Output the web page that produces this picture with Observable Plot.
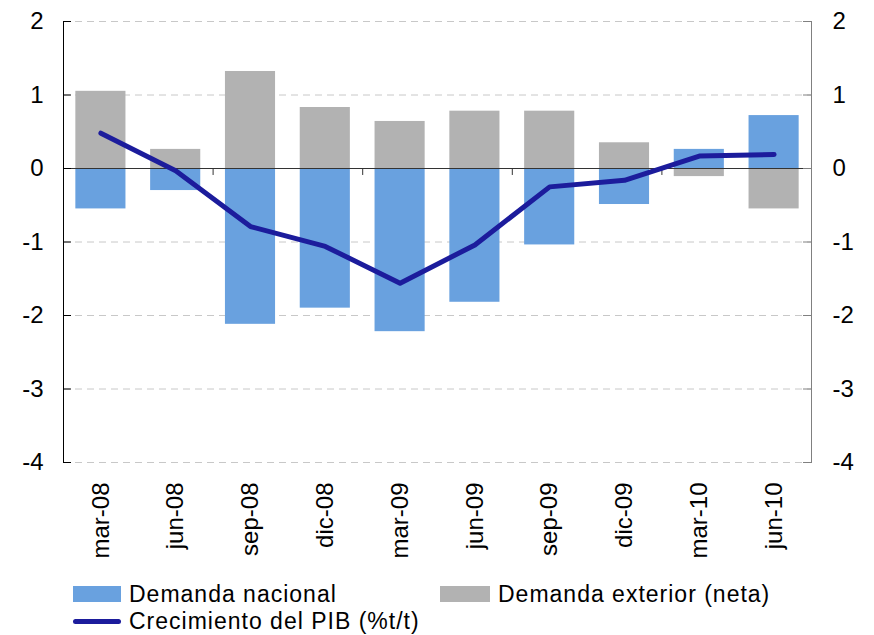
<!DOCTYPE html>
<html>
<head>
<meta charset="utf-8">
<script src="https://cdn.jsdelivr.net/npm/d3@7"></script>
<script src="https://cdn.jsdelivr.net/npm/@observablehq/plot@0.6"></script>
<style>
  html, body { margin: 0; padding: 0; background: #fff; }
  body { width: 874px; height: 635px; font-family: "Liberation Sans", Arial, sans-serif; }
  #legend { position: relative; height: 57px; font-size: 23px; letter-spacing: 1px; line-height: 26px; color: #000; }
  .item { position: absolute; display: flex; align-items: center; white-space: nowrap; height: 26px; }
  .sw { display: inline-block; margin-right: 8px; }
</style>
</head>
<body>
<div id="chart"></div>
<div id="legend"></div>
<script>
const categories = ["mar-08","jun-08","sep-08","dic-08","mar-09","jun-09","sep-09","dic-09","mar-10","jun-10"];
const nacional = [-0.55,-0.30,-2.12,-1.90,-2.22,-1.82,-1.04,-0.49,0.26,0.72];
const exterior = [1.05,0.26,1.32,0.83,0.64,0.78,0.78,0.35,-0.11,-0.55];
const pib = [0.48,-0.03,-0.79,-1.06,-1.56,-1.04,-0.25,-0.16,0.17,0.19];
const yTicks = [2,1,0,-1,-2,-3,-4];
const seriesNames = ["Demanda nacional","Demanda exterior (neta)","Crecimiento del PIB (%t/t)"];
const colors = ["#69A1DF","#B2B2B2","#1C1C9C"];

const W = 874, H = 578, ML = 63, MR = 63, MT = 21, MB = 116;
const step = (W - ML - MR) / categories.length;

const bars = [];
categories.forEach((c, i) => {
  bars.push({cat: c, serie: seriesNames[0], v: nacional[i]});
  bars.push({cat: c, serie: seriesNames[1], v: exterior[i]});
});
const line = categories.map((c, i) => ({cat: c, v: pib[i]}));
const boundaryCats = [categories[1], categories[3], categories[5], categories[7]];

const chart = Plot.plot({
  width: W, height: H,
  marginLeft: ML, marginRight: MR, marginTop: MT, marginBottom: MB,
  style: {fontFamily: "'Liberation Sans', Arial, sans-serif", fontSize: "24px", color: "#000", background: "#fff"},
  x: {domain: categories, paddingInner: 0.33, paddingOuter: 0.165, round: false, label: null},
  y: {domain: [-4, 2], label: null},
  color: {domain: seriesNames.slice(0,2), range: colors.slice(0,2)},
  marks: [
    Plot.gridY(yTicks.filter(d => d !== 0), {stroke: "#c8c8c8", strokeOpacity: 1, strokeDasharray: "7,5"}),
    Plot.barY(bars, {x: "cat", y: "v", fill: "serie"}),
    Plot.ruleY([0], {stroke: "#333", strokeWidth: 1.2}),
    Plot.ruleX(boundaryCats, {x: d => d, y1: 0, y2: -0.095, dx: step / 2, stroke: "#333"}),
    Plot.line(line, {x: "cat", y: "v", stroke: colors[2], strokeWidth: 5, strokeLinecap: "round", strokeLinejoin: "round"}),
    Plot.frame({anchor: "left", stroke: "#000"}),
    Plot.frame({anchor: "right", stroke: "#808080"}),
    Plot.ruleY(yTicks, {stroke: "#000", insetRight: W - ML - MR - 8}),
    Plot.ruleY(yTicks, {stroke: "#808080", insetLeft: W - ML - MR - 8}),
    Plot.axisY(yTicks, {anchor: "left", tickSize: 0, tickPadding: 20, fontSize: 24, tickFormat: d => String(d)}),
    Plot.axisY(yTicks, {anchor: "right", tickSize: 0, tickPadding: 21, fontSize: 24, tickFormat: d => String(d)}),
    Plot.axisX({anchor: "bottom", tickSize: 0, tickPadding: 20, tickRotate: -90, fontSize: 24})
  ]
});
document.getElementById("chart").appendChild(chart);

const legend = document.getElementById("legend");
const items = [
  {name: seriesNames[0], color: colors[0], type: "rect", left: 73, top: 3},
  {name: seriesNames[1], color: colors[1], type: "rect", left: 440, top: 3},
  {name: seriesNames[2], color: colors[2], type: "line", left: 73, top: 30}
];
items.forEach(it => {
  const div = document.createElement("div");
  div.className = "item";
  div.style.left = it.left + "px";
  div.style.top = it.top + "px";
  const sw = document.createElement("span");
  sw.className = "sw";
  if (it.type === "rect") {
    sw.style.width = (it.left === 440 ? 50 : 48) + "px";
    sw.style.height = "16px";
    sw.style.background = it.color;
  } else {
    sw.style.width = "48px";
    sw.style.height = "5px";
    sw.style.borderRadius = "3px";
    sw.style.background = it.color;
  }
  div.appendChild(sw);
  const t = document.createElement("span");
  t.textContent = it.name;
  div.appendChild(t);
  legend.appendChild(div);
});
</script>
</body>
</html>
